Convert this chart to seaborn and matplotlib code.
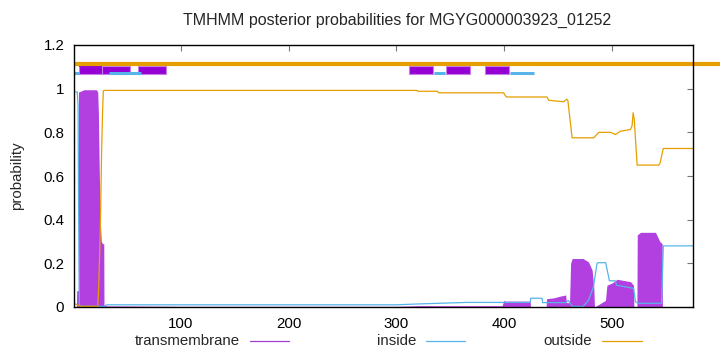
import numpy as np
import matplotlib
matplotlib.use("Agg")
import matplotlib.pyplot as plt
from matplotlib.lines import Line2D
import seaborn as sns

# posterior probability curves as (residue, value) points
tm_res = [1, 3.3, 3.5, 5.0, 5.2, 8, 10, 21.8, 23, 23.6, 24.5, 25.5, 26.3, 27.5, 28.6, 28.8,
          31, 100, 300, 320, 398, 399.5, 401, 424, 424.3, 438.8, 439.2, 446, 452, 457,
          457.5, 460.5, 461.5, 463, 473, 478, 481.4, 483, 483.6, 487, 493.8, 495.2, 500,
          504.6, 517, 519.8, 520.2, 523, 523.3, 526.3, 540.2, 544.2, 546.4, 546.6, 575]
tm_val = [0, 0, 0.075, 0.075, 0.985, 0.99, 0.995, 0.995, 0.985, 0.89, 0.6, 0.38, 0.30, 0.29, 0.29, 0.01,
          0.005, 0.003, 0.003, 0.006, 0.006, 0.03, 0.027, 0.027, 0.0, 0.0, 0.038, 0.042, 0.05, 0.055,
          0.02, 0.02, 0.2, 0.222, 0.222, 0.207, 0.17, 0.09, 0.0, 0.01, 0.03, 0.1, 0.11,
          0.127, 0.116, 0.1, 0.0, 0.0, 0.33, 0.342, 0.342, 0.3, 0.29, 0.0, 0.0]

in_res = [1, 4, 4.8, 5.2, 6, 7, 30, 31, 300, 320, 340, 365, 424, 424.5, 435, 435.5, 457, 459.4,
          462.9, 473, 478, 482.6, 486, 487, 494, 495.4, 497.5, 503, 504, 517, 520, 521.6, 524,
          545.8, 547.5, 575]
in_val = [0.985, 0.985, 0.92, 0.5, 0.01, 0.003, 0.003, 0.01, 0.01, 0.014, 0.017, 0.021, 0.021, 0.04,
          0.04, 0.02, 0.02, 0.03, 0.003, 0.002, 0.03, 0.09, 0.2, 0.203, 0.203, 0.17, 0.12, 0.12, 0.1,
          0.088, 0.085, 0.025, 0.017, 0.017, 0.28, 0.28]

out_res = [1, 3, 6, 8, 23, 24, 25.5, 26.5, 27.5, 28.2, 29, 319, 320, 338, 339, 399.3, 401.8, 439.6,
           441.1, 455, 458, 459, 462.9, 483, 487.6, 498.4, 503, 507.7, 517, 518.5, 519.5, 520.5,
           523.2, 543.3, 544.5, 547.4, 575]
out_val = [0.018, 0.012, 0.005, 0.003, 0.003, 0.1, 0.38, 0.69, 0.9, 0.99, 0.992, 0.992, 0.988, 0.988,
           0.981, 0.981, 0.962, 0.962, 0.947, 0.94, 0.952, 0.945, 0.775, 0.775, 0.8, 0.8, 0.79, 0.805,
           0.813, 0.83, 0.89, 0.86, 0.65, 0.65, 0.66, 0.726, 0.726]

# predicted topology strip at the top: (start, end) residues
tm_boxes = [(5.6, 26.9), (26.9, 52.8), (60.2, 86.1), (312, 334), (346, 368.5), (382, 404.6)]
in_segs = [(1, 5.6), (33.3, 63), (335, 345), (405.5, 427.8)]
seq_len = 575

title = "TMHMM posterior probabilities for MGYG000003923_01252"

sns.set_theme(style="white")
plt.rcParams["font.family"] = ["Liberation Sans", "DejaVu Sans"]

fig = plt.figure(figsize=(7.2, 3.52), dpi=100)
ax = fig.add_axes([74 / 720, 1 - 307 / 352, 619 / 720, 262 / 352])

purple = "#b23fe0"
blue = "#56b4e9"
orange = "#e69f00"
fs = 10.8

ax.fill_between(tm_res, tm_val, 0, color=purple, lw=0)
sns.lineplot(x=in_res, y=in_val, ax=ax, color=blue, lw=0.9, sort=False, estimator=None)
sns.lineplot(x=out_res, y=out_val, ax=ax, color=orange, lw=0.9, sort=False, estimator=None)

# top strip
ax.plot([1, 640], [1.112, 1.112], color=orange, lw=3.0, clip_on=False, solid_capstyle="butt")
for s, e in in_segs:
    ax.plot([s, e], [1.073, 1.073], color=blue, lw=2.2, solid_capstyle="butt")
ax.broken_barh([(s, e - s) for s, e in tm_boxes], (1.068, 0.036),
               facecolor="#9400d3", edgecolor="#c67fe8", lw=0.8)
ax.broken_barh([(tm_boxes[0][0], tm_boxes[0][1] - tm_boxes[0][0])], (1.1, 0.018),
               facecolor="#9400d3", lw=0)

ax.set_xlim(1, seq_len)
ax.set_ylim(0, 1.2)
ax.set_xticks([100, 200, 300, 400, 500])
ax.set_yticks([0, 0.2, 0.4, 0.6, 0.8, 1.0, 1.2])
ax.set_yticklabels(["0", "0.2", "0.4", "0.6", "0.8", "1", "1.2"])
ax.tick_params(direction="in", top=True, right=True, length=4, width=0.8,
               color="#777777", labelsize=fs, labelcolor="black", pad=7)
for sp in ax.spines.values():
    sp.set_color("black")
    sp.set_linewidth(1.0)
ax.set_xlabel("")
ax.set_ylabel("")

fig.text(397 / 720, 1 - 20 / 352, title, ha="center", va="center", fontsize=11.5)
fig.text(17 / 720, 176 / 352, "probability", ha="center", va="center", rotation=90, fontsize=fs)

# legend below the axes
leg_y = 1 - 341 / 352
legend_items = [("transmembrane", "#a040d0", 240, 250, 289),
                ("inside", blue, 416, 426, 465),
                ("outside", orange, 592, 602, 642)]
for label, col, tx, x0, x1 in legend_items:
    fig.text(tx / 720, leg_y, label, ha="right", va="center", fontsize=fs)
    fig.add_artist(Line2D([x0 / 720, x1 / 720], [leg_y, leg_y], color=col, lw=0.9,
                          transform=fig.transFigure))

fig.savefig("out.png", dpi=100)
